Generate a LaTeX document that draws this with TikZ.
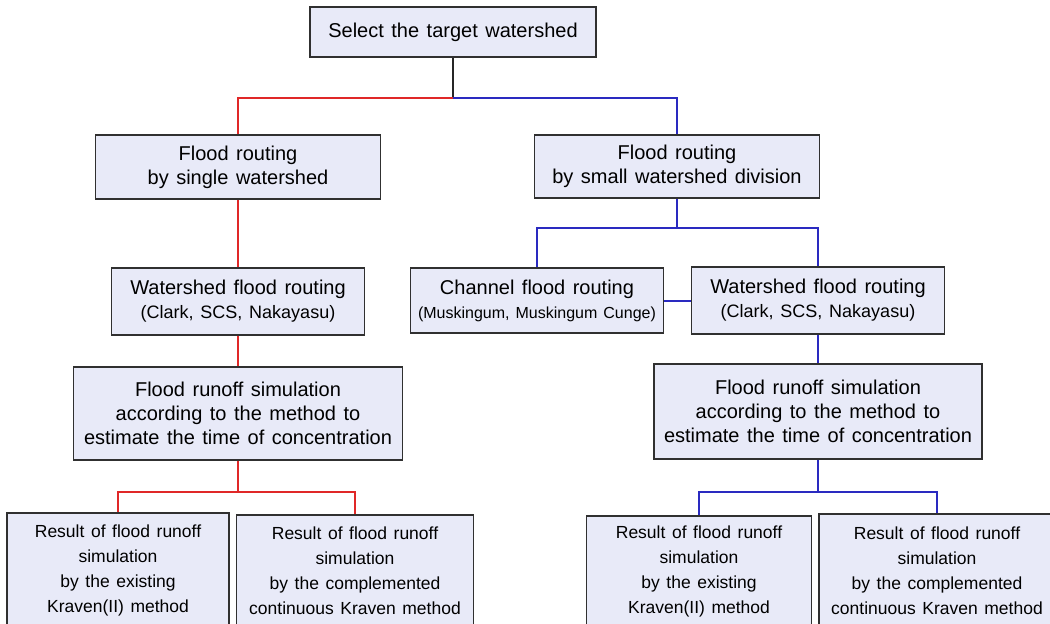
\documentclass[tikz,border=0pt]{standalone}
\usepackage{fontspec}
\setmainfont[WordSpace=1.35]{Liberation Sans}
\definecolor{boxfill}{HTML}{E8EAF8}
\definecolor{boxline}{HTML}{303030}
\definecolor{rline}{HTML}{E02828}
\definecolor{bline}{HTML}{2A2AC0}
\begin{document}
\begin{tikzpicture}[x=1pt,y=-1pt,
  box/.style={draw=boxline,fill=boxfill,line width=1.2pt,inner sep=0pt,align=center,
    font=\fontsize{20}{24}\selectfont},
  resbox/.style={box,font=\fontsize{17.5}{25}\selectfont},
  redc/.style={draw=rline,line width=2pt},
  bluec/.style={draw=bline,line width=2pt},
  blackc/.style={draw=black!85,line width=1.5pt}]
\useasboundingbox (0,0) rectangle (1050,624);
\fill[white] (0,0) rectangle (1050,624);

% nodes
\node[box,minimum width=286pt,minimum height=50pt] (top) at (453,32) {Select the target watershed};
\node[box,minimum width=285pt,minimum height=64pt] (L1) at (238,167) {Flood routing\\by single watershed};
\node[box,minimum width=285pt,minimum height=63pt] (R1) at (677,166.5) {Flood routing\\by small watershed division};
\node[box,minimum width=253pt,minimum height=67pt] (L2) at (238,301.5) {Watershed flood routing\\\fontsize{18}{24}\selectfont(Clark, SCS, Nakayasu)};
\node[box,minimum width=253pt,minimum height=65pt] (CH) at (537,300.5) {Channel flood routing\\\fontsize{16}{24}\selectfont(Muskingum, Muskingum Cunge)};
\node[box,minimum width=253pt,minimum height=67pt] (R2) at (818,300.5) {Watershed flood routing\\\fontsize{18}{24}\selectfont(Clark, SCS, Nakayasu)};
\node[box,minimum width=329pt,minimum height=93pt] (L3) at (238,413.5) {Flood runoff simulation\\according to the method to\\estimate the time of concentration};
\node[box,minimum width=328pt,minimum height=95pt] (R3) at (818,411.5) {Flood runoff simulation\\according to the method to\\estimate the time of concentration};
\node[resbox,minimum width=222pt,minimum height=114pt] (B1) at (118,570) {Result of flood runoff\\simulation\\by the existing\\Kraven(II) method};
\node[resbox,minimum width=237pt,minimum height=112pt] (B2) at (355,571) {Result of flood runoff\\simulation\\by the complemented\\continuous Kraven method};
\node[resbox,minimum width=225pt,minimum height=111pt] (B3) at (699,571.5) {Result of flood runoff\\simulation\\by the existing\\Kraven(II) method};
\node[resbox,minimum width=236pt,minimum height=113pt] (B4) at (937,570.5) {Result of flood runoff\\simulation\\by the complemented\\continuous Kraven method};

% split points
\coordinate (s0) at (453,98);
\coordinate (sR) at (677,228);
\coordinate (sL3) at (238,492);
\coordinate (sR3) at (818,492);

% connectors
\draw[blackc] (top.south) -- (s0);
\draw[redc] (s0) -| (L1.north);
\draw[bluec] (s0) -| (R1.north);
\draw[redc] (L1.south) -- (L2.north);
\draw[redc] (L2.south) -- (L3.north);
\draw[redc] (L3.south) -- (sL3);
\draw[redc] (sL3) -| (B1.north);
\draw[redc] (sL3) -| (B2.north);
\draw[bluec] (R1.south) -- (sR);
\draw[bluec] (sR) -| (CH.north);
\draw[bluec] (sR) -| (R2.north);
\draw[bluec] (CH.east) -- (R2.west);
\draw[bluec] (R2.south) -- (R3.north);
\draw[bluec] (R3.south) -- (sR3);
\draw[bluec] (sR3) -| (B3.north);
\draw[bluec] (sR3) -| (B4.north);
\end{tikzpicture}
\end{document}
